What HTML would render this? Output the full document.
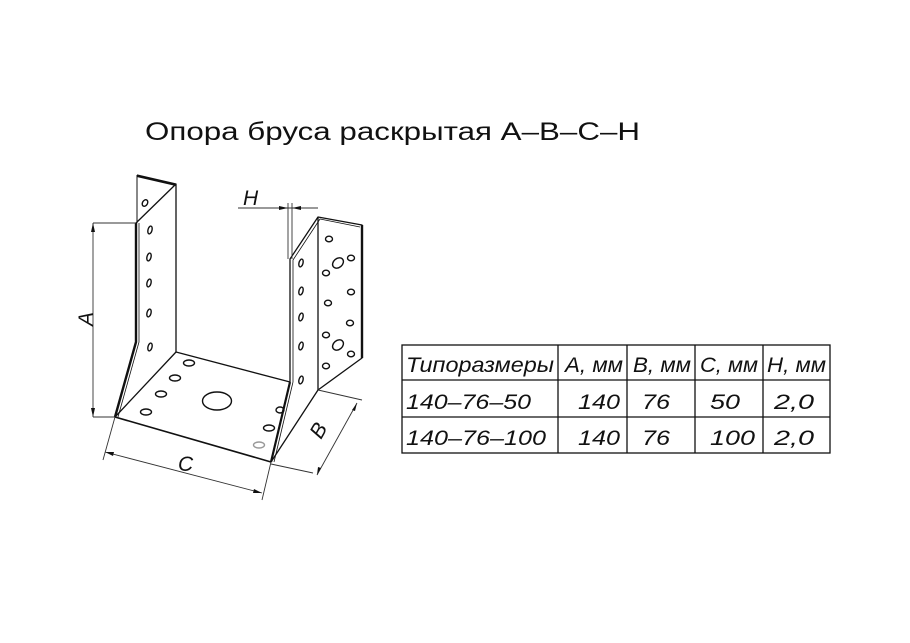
<!DOCTYPE html>
<html><head><meta charset="utf-8"><style>
html,body{margin:0;padding:0;background:#fff;width:910px;height:643px;overflow:hidden}
svg{display:block}
text{font-family:"Liberation Sans",sans-serif;fill:#111}
</style></head><body>
<svg width="910" height="643" viewBox="0 0 910 643" xmlns="http://www.w3.org/2000/svg">
<text x="145" y="140" font-size="25" textLength="495" lengthAdjust="spacingAndGlyphs">Опора  бруса  раскрытая  A–B–C–H</text>
<g fill="none" stroke="#111" stroke-width="1.3" stroke-linejoin="round">
<!-- left plate -->
<polyline points="137,175 176,184 176,352"/>
<line x1="137" y1="175" x2="137" y2="223" stroke-width="1"/>
<line x1="137" y1="176" x2="176" y2="185" stroke-width="2"/>
<line x1="176" y1="184" x2="136" y2="223"/>
<polyline points="136,223 136,342 115,417" stroke-width="2.4"/>
<polyline points="139,223 139,342 118,417" stroke-width="0.8"/>
<!-- base -->
<polyline points="176,352 290,382"/>
<line x1="115" y1="417" x2="271" y2="462" stroke-width="1.6"/>
<line x1="176" y1="352" x2="115" y2="417"/>
<!-- right plate -->
<polyline points="290,382 290,259 318,217 362,225 362,358 318,390" />
<polyline points="293,382 293,260 320,219 360,227" stroke-width="0.8"/>
<line x1="362" y1="225" x2="362" y2="358" stroke-width="2.4"/>
<line x1="318" y1="217" x2="318" y2="390"/>
<polyline points="290,382 271,462" stroke-width="2.2"/>
<line x1="293" y1="382" x2="274" y2="462" stroke-width="0.8"/>
<line x1="318" y1="390" x2="271" y2="462"/>
</g>
<!-- holes -->
<g fill="none" stroke="#111" stroke-width="1.4">
<ellipse cx="145" cy="203" rx="2.5" ry="3.5" transform="rotate(30 145 203)"/>
<ellipse cx="150" cy="230" rx="2" ry="4" transform="rotate(15 150 230)"/>
<ellipse cx="149" cy="257" rx="2" ry="4" transform="rotate(15 149 257)"/>
<ellipse cx="149" cy="283" rx="2" ry="4" transform="rotate(15 149 283)"/>
<ellipse cx="149" cy="313" rx="2" ry="4" transform="rotate(15 149 313)"/>
<ellipse cx="150" cy="347" rx="2" ry="4" transform="rotate(15 150 347)"/>
<ellipse cx="301" cy="263" rx="2" ry="4" transform="rotate(15 301 263)"/>
<ellipse cx="301" cy="291" rx="2" ry="4" transform="rotate(15 301 291)"/>
<ellipse cx="301" cy="317" rx="2" ry="4" transform="rotate(15 301 317)"/>
<ellipse cx="301" cy="346" rx="2" ry="4" transform="rotate(15 301 346)"/>
<ellipse cx="301" cy="380" rx="2" ry="4" transform="rotate(15 301 380)"/>
<ellipse cx="329" cy="239" rx="3.5" ry="2.8"/>
<ellipse cx="338" cy="263" rx="6" ry="4.5" transform="rotate(-40 338 263)"/>
<ellipse cx="351" cy="258" rx="3.5" ry="2.8"/>
<ellipse cx="326" cy="273" rx="3.5" ry="2.8"/>
<ellipse cx="351" cy="292" rx="3.5" ry="2.8"/>
<ellipse cx="328" cy="303" rx="3.5" ry="2.8"/>
<ellipse cx="350" cy="323" rx="3.5" ry="2.8"/>
<ellipse cx="326" cy="335" rx="3.5" ry="2.8"/>
<ellipse cx="338" cy="345" rx="6" ry="4.5" transform="rotate(-40 338 345)"/>
<ellipse cx="351" cy="354" rx="3.5" ry="2.8"/>
<ellipse cx="326" cy="366" rx="3.5" ry="2.8"/>
<ellipse cx="189" cy="363" rx="5.5" ry="3"/>
<ellipse cx="175" cy="378" rx="5.5" ry="3"/>
<ellipse cx="161" cy="394" rx="5.5" ry="3"/>
<ellipse cx="146" cy="412" rx="5.5" ry="3"/>
<ellipse cx="217" cy="401" rx="14.5" ry="9"/>
<ellipse cx="280" cy="410" rx="4" ry="3"/>
<ellipse cx="269" cy="428" rx="5.5" ry="3"/>
<ellipse cx="259" cy="445" rx="5.5" ry="3" stroke="#999"/>
</g>
<!-- dimensions -->
<g stroke="#333" stroke-width="0.9" fill="none">
<line x1="93" y1="223" x2="136" y2="223"/>
<line x1="93" y1="417" x2="115" y2="417"/>
<line x1="93" y1="223" x2="93" y2="417"/>
<line x1="115" y1="417" x2="103" y2="460"/>
<line x1="271" y1="462" x2="262" y2="500"/>
<line x1="105" y1="452" x2="262" y2="493"/>
<line x1="318" y1="390" x2="362" y2="400"/>
<line x1="271" y1="464" x2="313" y2="473"/>
<line x1="357" y1="403" x2="317" y2="475"/>
<line x1="238" y1="208" x2="318" y2="208"/>
<line x1="288" y1="203" x2="288" y2="259"/>
<line x1="292" y1="203" x2="292" y2="259"/>
</g>
<g fill="#111">
<polygon points="93,223 91,232 95,232"/>
<polygon points="93,417 91,408 95,408"/>
<polygon points="105,452 114,452 113,456"/>
<polygon points="262,493 253,493 254,489"/>
<polygon points="357,403 352,410 355,411"/>
<polygon points="317,475 318,467 321,468"/>
<polygon points="288,208 279,206 279,210"/>
<polygon points="292,208 301,206 301,210"/>
</g>
<g font-style="italic" font-size="21">
<text x="243" y="205">H</text>
<text x="178" y="471">C</text>
<text transform="translate(93,326) rotate(-90)">A</text>
<text transform="translate(321,440) rotate(-60)">B</text>
</g>
<!-- table -->
<g stroke="#111" stroke-width="1.3">
<rect x="402" y="345" width="428" height="108" fill="none"/>
<line x1="402" y1="380" x2="830" y2="380"/>
<line x1="402" y1="417" x2="830" y2="417"/>
<line x1="558" y1="345" x2="558" y2="453"/>
<line x1="627" y1="345" x2="627" y2="453"/>
<line x1="695" y1="345" x2="695" y2="453"/>
<line x1="763" y1="345" x2="763" y2="453"/>
</g>
<g font-style="italic" font-size="21">
<text x="406" y="372" textLength="148" lengthAdjust="spacingAndGlyphs">Типоразмеры</text>
<text x="565" y="372" textLength="58" lengthAdjust="spacingAndGlyphs">A, мм</text>
<text x="633" y="372" textLength="58" lengthAdjust="spacingAndGlyphs">B, мм</text>
<text x="700" y="372" textLength="58" lengthAdjust="spacingAndGlyphs">C, мм</text>
<text x="767" y="372" textLength="59" lengthAdjust="spacingAndGlyphs">H, мм</text>
<text x="406" y="409" textLength="125" lengthAdjust="spacingAndGlyphs">140–76–50</text>
<text x="578" y="409" textLength="42" lengthAdjust="spacingAndGlyphs">140</text>
<text x="642" y="409" textLength="28" lengthAdjust="spacingAndGlyphs">76</text>
<text x="710" y="409" textLength="30" lengthAdjust="spacingAndGlyphs">50</text>
<text x="774" y="409" textLength="40" lengthAdjust="spacingAndGlyphs">2,0</text>
<text x="406" y="445" textLength="140" lengthAdjust="spacingAndGlyphs">140–76–100</text>
<text x="578" y="445" textLength="42" lengthAdjust="spacingAndGlyphs">140</text>
<text x="642" y="445" textLength="28" lengthAdjust="spacingAndGlyphs">76</text>
<text x="710" y="445" textLength="45" lengthAdjust="spacingAndGlyphs">100</text>
<text x="774" y="445" textLength="40" lengthAdjust="spacingAndGlyphs">2,0</text>
</g>
</svg>
</body></html>
